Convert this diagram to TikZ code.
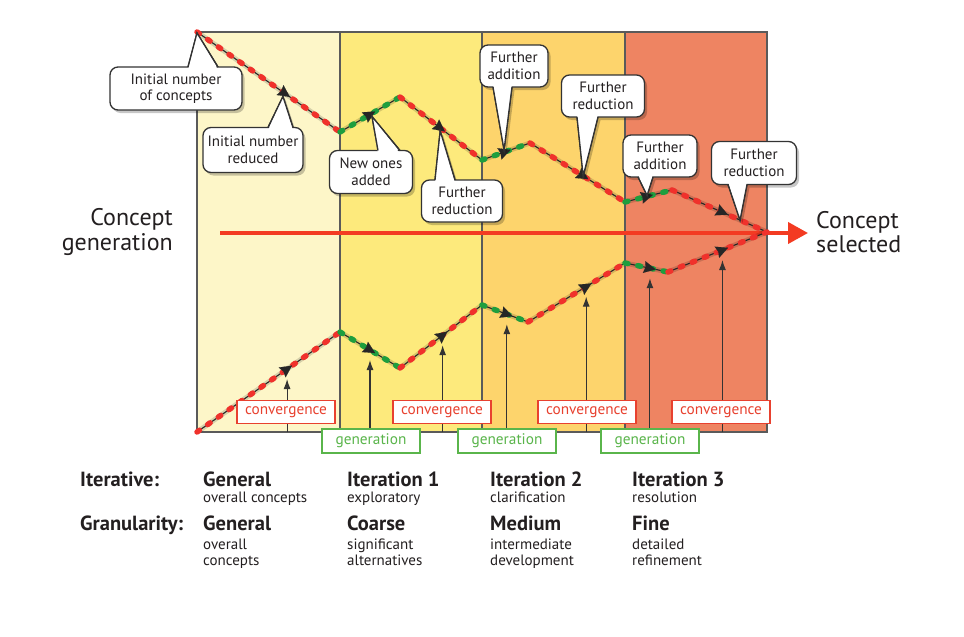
\documentclass[tikz,border=0pt]{standalone}
\usepackage{fontspec}
\setmainfont{PT Sans}
\usetikzlibrary{calc,arrows.meta}
\definecolor{colA}{HTML}{FDF6C8}
\definecolor{colB}{HTML}{FDEA7C}
\definecolor{colC}{HTML}{FDD46C}
\definecolor{colD}{HTML}{EE8462}
\definecolor{frameg}{HTML}{5A5A5A}
\definecolor{mainred}{HTML}{F33B22}
\definecolor{dotred}{HTML}{F0312B}
\definecolor{dotgreen}{HTML}{1E9E3E}
\definecolor{convred}{HTML}{E8412F}
\definecolor{gengreen}{HTML}{5AB54B}
\definecolor{txt}{HTML}{231F20}
\newcommand\callout[9]{%
  \pgfmathsetmacro\ey{#3-#7*#5/2}%
  \pgfmathsetmacro\iy{\ey+#7*3}%
  \fill[shad] ($(#8,\ey)+(2.5,3)$) -- ($(#1t)+(2.5,3)$) -- ($(#9,\ey)+(2.5,3)$) -- cycle;
  \fill[shad, rounded corners=8pt] (#2-#4/2+2.5,#3-#5/2+3) rectangle (#2+#4/2+2.5,#3+#5/2+3);
  \draw[cbord, fill=white] (#8,\ey) -- (#1t) -- (#9,\ey);
  \node[cbox, minimum width=#4pt, minimum height=#5pt] (#1) at (#2,#3) {#6};
  \fill[white] (#8,\iy) -- (#1t) -- (#9,\iy) -- cycle;
  \draw[cbord] (#8,\ey) -- (#1t) -- (#9,\ey);
}
\newcommand\mk[2]{\draw[mkst] ($(#1)!-6pt!(#2)$) -- ($(#1)!6pt!(#2)$);}
\begin{document}
\begin{tikzpicture}[x=1pt,y=-1pt,
  frame/.style={draw=frameg, line width=1.2pt},
  shadl/.style={draw=black, opacity=.15, line width=5pt, line join=round, shift={(2,3)}},
  blkl/.style={draw=black!85, line width=1.1pt, line join=round},
  dotsR/.style={draw=dotred, line width=5.5pt, dash pattern=on 3pt off 10pt, line cap=round},
  dotsG/.style={draw=dotgreen, line width=5.5pt, dash pattern=on 3pt off 10pt, line cap=round},
  mkst/.style={draw=black!85, line width=.1pt, -{Stealth[length=12pt,width=12pt,inset=1.5pt,fill=black!85]}},
  varr/.style={draw=black!80, line width=1.1pt, -{Latex[length=10pt,width=7pt]}},
  mainarr/.style={draw=mainred, line width=4pt, -{Triangle[length=20pt,width=21pt]}},
  shad/.style={fill=black, opacity=.22},
  cbord/.style={draw=black!80, line width=1.3pt},
  cbox/.style={draw=black!80, line width=1.3pt, fill=white, rounded corners=8pt, align=center, inner sep=0pt, text=txt, font=\fontsize{15}{16.5}\selectfont},
  conv/.style={draw=convred, line width=1.5pt, fill=white, text=convred, minimum width=98pt, minimum height=23pt, inner sep=0pt, font=\fontsize{15.3}{16}\selectfont},
  gen/.style={draw=gengreen, line width=1.5pt, fill=white, text=gengreen, minimum width=98pt, minimum height=24pt, inner sep=0pt, font=\fontsize{15.3}{16}\selectfont},
  big/.style={text=txt, font=\fontsize{24}{24.5}\selectfont, inner sep=0pt},
  head/.style={text=txt, font=\bfseries\fontsize{20.5}{22}\selectfont, inner sep=0pt, anchor=base west},
  sub/.style={text=txt, font=\fontsize{15}{16}\selectfont, inner sep=0pt, anchor=base west, align=left}
]
\useasboundingbox (0,0) rectangle (964,637);
\fill[white] (0,0) rectangle (964,637);
% columns
\fill[colA] (197,32) rectangle (340,432);
\fill[colB] (340,32) rectangle (482,432);
\fill[colC] (482,32) rectangle (625,432);
\fill[colD] (625,32) rectangle (767,432);
\draw[frame] (340,32) -- (340,432);
\draw[frame] (482,32) -- (482,432);
\draw[frame] (625,32) -- (625,432);
\draw[frame] (197,32) rectangle (767,432);
% curve points
\coordinate (U0) at (197,32);
\coordinate (U1) at (340,132);
\coordinate (U2) at (400,97);
\coordinate (U3) at (482,160);
\coordinate (U4) at (530,143);
\coordinate (U5) at (625,202);
\coordinate (U6) at (672,190);
\coordinate (U7) at (767,232);
\coordinate (L0) at (197,432);
\coordinate (L1) at (340,332);
\coordinate (L2) at (400,368);
\coordinate (L3) at (482,305);
\coordinate (L4) at (528,322);
\coordinate (L5) at (625,263);
\coordinate (L6) at (668,272);
\coordinate (L7) at (767,232);
\coordinate (bot) at (0,432);
% marker positions
\path (U0) -- (U1) coordinate[pos=.615] (um1);
\path (U1) -- (U2) coordinate[pos=.5] (um2);
\path (U2) -- (U3) coordinate[pos=.49] (um3);
\path (U3) -- (U4) coordinate[pos=.48] (um4);
\path (U4) -- (U5) coordinate[pos=.56] (um5);
\path (U5) -- (U6) coordinate[pos=.47] (um6);
\path (U6) -- (U7) coordinate[pos=.53] (um7);
\path (L0) -- (L1) coordinate[pos=.63] (lm1);
\path (L1) -- (L2) coordinate[pos=.5] (lm2);
\path (L2) -- (L3) coordinate[pos=.52] (lm3);
\path (L3) -- (L4) coordinate[pos=.54] (lm4);
\path (L4) -- (L5) coordinate[pos=.6] (lm5);
\path (L5) -- (L6) coordinate[pos=.58] (lm6);
\path (L6) -- (L7) coordinate[pos=.55] (lm7);
% vertical arrows
\foreach \m in {lm1,lm2,lm3,lm4,lm5,lm6,lm7}
  \draw[varr] (\m |- bot) -- ($(\m)+(0,10)$);
% main arrow
\coordinate (ms) at (220,233);
\coordinate (me) at (808,233);
\draw[mainarr] (ms) -- (me);
% curves
\draw[shadl] (U0) -- (U1) -- (U2) -- (U3) -- (U4) -- (U5) -- (U6) -- (U7);
\draw[shadl] (L0) -- (L1) -- (L2) -- (L3) -- (L4) -- (L5) -- (L6) -- (L7);
\draw[blkl] (U0) -- (U1) -- (U2) -- (U3) -- (U4) -- (U5) -- (U6) -- (U7);
\draw[blkl] (L0) -- (L1) -- (L2) -- (L3) -- (L4) -- (L5) -- (L6) -- (L7);
\draw[dotsR] (U0) -- (U1);
\draw[dotsG] (U1) -- (U2);
\draw[dotsR] (U2) -- (U3);
\draw[dotsG] (U3) -- (U4);
\draw[dotsR] (U4) -- (U5);
\draw[dotsG] (U5) -- (U6);
\draw[dotsR] (U6) -- (U7);
\draw[dotsR] (L0) -- (L1);
\draw[dotsG] (L1) -- (L2);
\draw[dotsR] (L2) -- (L3);
\draw[dotsG] (L3) -- (L4);
\draw[dotsR] (L4) -- (L5);
\draw[dotsG] (L5) -- (L6);
\draw[dotsR] (L6) -- (L7);
% markers
\mk{um1}{U1}\mk{um2}{U2}\mk{um3}{U3}\mk{um4}{U4}\mk{um5}{U5}\mk{um6}{U6}\mk{um7}{U7}
\mk{lm1}{L1}\mk{lm2}{L2}\mk{lm3}{L3}\mk{lm4}{L4}\mk{lm5}{L5}\mk{lm6}{L6}\mk{lm7}{L7}
% callouts
\coordinate (c1t) at ($(U0)+(0,1)$);
\coordinate (c2t) at ($(um1)+(-2,3)$);
\coordinate (c3t) at ($(um2)+(2,2)$);
\coordinate (c4t) at ($(um3)+(0,3)$);
\coordinate (c5t) at ($(um4)+(-1,-2)$);
\coordinate (c6t) at (um5);
\coordinate (c7t) at ($(um6)+(0,-1)$);
\path (U6) -- (U7) coordinate[pos=.716] (c8t);
\callout{c1}{176}{88.5}{132}{43}{Initial number\\of concepts}{1}{188}{218}
\callout{c2}{253}{150}{100}{45}{Initial number\\reduced}{1}{268}{293}
\callout{c3}{371}{172}{83}{43}{New ones\\added}{1}{378}{400}
\callout{c4}{462}{201}{81}{42}{Further\\reduction}{1}{435}{455}
\callout{c5}{514}{66}{68}{42}{Further\\addition}{-1}{493}{512}
\callout{c6}{603}{96}{83}{42}{Further\\reduction}{-1}{577}{598}
\callout{c7}{660}{156}{74}{42}{Further\\addition}{-1}{638}{653}
\callout{c8}{754}{163}{85}{43}{Further\\reduction}{-1}{728}{747}
% convergence / generation labels
\node[conv] (cv1) at (286,412) {convergence};
\node[conv] (cv2) at (442,412) {convergence};
\node[conv] (cv3) at (587,412) {convergence};
\node[conv] (cv4) at (721,412) {convergence};
\node[gen] (gn1) at (371,441) {generation};
\node[gen] (gn2) at (507,441) {generation};
\node[gen] (gn3) at (650,441) {generation};
% side texts
\node[big, align=right, anchor=east] (cg) at (173,232) {Concept\\generation};
\node[big, align=left, anchor=west] (cs) at (816,232) {Concept\\selected};
% bottom table
\node[head] (it) at (80,486) {Iterative:};
\node[head] (gr) at (80,530) {Granularity:};
\node[head] (i0) at (203,486) {General};
\node[head] (i1) at (347,486) {Iteration 1};
\node[head] (i2) at (490,486) {Iteration 2};
\node[head] (i3) at (632,486) {Iteration 3};
\node[sub] (s0) at (203,502) {overall concepts};
\node[sub] (s1) at (347,502) {exploratory};
\node[sub] (s2) at (490,502) {clarification};
\node[sub] (s3) at (632,502) {resolution};
\node[head] (g0) at (203,530) {General};
\node[head] (g1) at (347,530) {Coarse};
\node[head] (g2) at (490,530) {Medium};
\node[head] (g3) at (632,530) {Fine};
\node[sub] (t0) at (203,565) {overall\\concepts};
\node[sub] (t1) at (347,565) {significant\\alternatives};
\node[sub] (t2) at (490,565) {intermediate\\development};
\node[sub] (t3) at (632,565) {detailed\\refinement};
\end{tikzpicture}
\end{document}
